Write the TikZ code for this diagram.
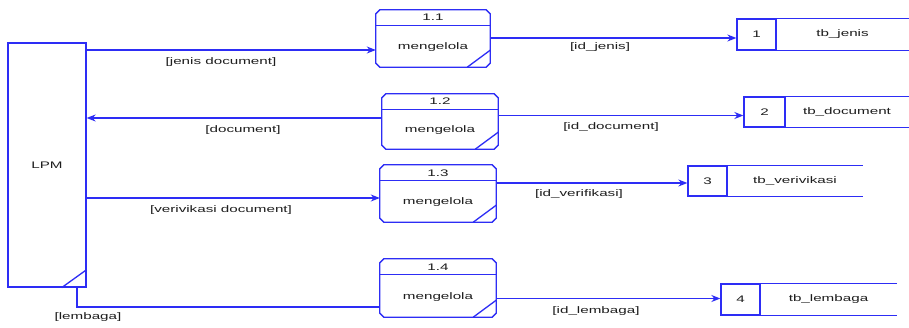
\documentclass[tikz,border=0pt]{standalone}
\usepackage{fontspec}
\setmainfont{Liberation Sans}
\usepackage{graphicx}
\usetikzlibrary{arrows.meta,calc}
\definecolor{ln}{RGB}{45,45,245}
\definecolor{tx}{RGB}{30,30,30}
\newcommand{\wt}[1]{\scalebox{1.6}[1]{#1}}
\begin{document}
\begin{tikzpicture}[x=1pt,y=-1pt,
  lnk/.style={draw=ln, line width=1.3pt},
  flow/.style={lnk, -{Stealth[length=9pt,width=7pt]}},
  txt/.style={inner sep=0pt, text=tx, font=\fontsize{9.5}{11}\selectfont},
  shp/.style={inner sep=0pt, minimum width=#1},
  cell/.style={lnk, inner sep=0pt, minimum width=#1, text=tx, font=\fontsize{9.5}{11}\selectfont},
  plain/.style={inner sep=0pt, minimum width=#1, text=tx, font=\fontsize{9.5}{11}\selectfont}]
\path[use as bounding box, fill=white] (0,0) rectangle (909,327);

% external entity
\node[lnk, txt, minimum width=78pt, minimum height=244pt] (lpm) at (47,165) {\wt{LPM}};
\draw[lnk] ([xshift=-25pt]lpm.south east) -- ([yshift=18pt]lpm.south east);

% processes
\node[shp=114pt, minimum height=57pt] (p1) at (433,38.5) {};
\node[shp=116pt, minimum height=55pt] (p2) at (440,121.5) {};
\node[shp=116pt, minimum height=57pt] (p3) at (438,193.5) {};
\node[shp=116pt, minimum height=58pt] (p4) at (438,288) {};
\foreach \n in {p1,p2,p3,p4}{
  \draw[lnk] ([xshift=4pt]\n.north west) -- ([xshift=-4pt]\n.north east)
    -- ([yshift=-4pt]\n.north east) -- ([yshift=4pt]\n.south east)
    -- ([xshift=-4pt]\n.south east) -- ([xshift=4pt]\n.south west)
    -- ([yshift=4pt]\n.south west) -- ([yshift=-4pt]\n.north west) -- cycle;
  \draw[lnk] ([yshift=-15.5pt]\n.north west) -- ([yshift=-15.5pt]\n.north east);
  \draw[lnk] ([xshift=-23pt]\n.south east) -- ([yshift=17pt]\n.south east);
}
\node[txt] (p1num) at (433,17.5) {\wt{1.1}};
\node[txt] (p1txt) at (433,47) {\wt{mengelola}};
\node[txt] (p2num) at (440,101.5) {\wt{1.2}};
\node[txt] (p2txt) at (440,130) {\wt{mengelola}};
\node[txt] (p3num) at (438,173) {\wt{1.3}};
\node[txt] (p3txt) at (438,202) {\wt{mengelola}};
\node[txt] (p4num) at (438,267.5) {\wt{1.4}};
\node[txt] (p4txt) at (438,297) {\wt{mengelola}};

% data stores
\node[cell=39pt, minimum height=31pt] (s1n) at (756.5,34.5) {\wt{1}};
\node[plain=133pt, minimum height=31pt] (s1t) at (842.5,34.5) {\wt{tb\_jenis}};
\node[cell=41pt, minimum height=30pt] (s2n) at (764.5,112) {\wt{2}};
\node[plain=124pt, minimum height=30pt] (s2t) at (847,112) {\wt{tb\_document}};
\node[cell=39pt, minimum height=30pt] (s3n) at (707.5,181) {\wt{3}};
\node[plain=136pt, minimum height=30pt] (s3t) at (795,181) {\wt{tb\_verivikasi}};
\node[cell=39pt, minimum height=31pt] (s4n) at (740.5,299.5) {\wt{4}};
\node[plain=137pt, minimum height=31pt] (s4t) at (828.5,299.5) {\wt{tb\_lembaga}};
\foreach \n in {s1t,s2t,s3t,s4t}{
  \draw[lnk] (\n.north west) -- (\n.north east);
  \draw[lnk] (\n.south west) -- (\n.south east);
}

% flows
\draw[flow] (lpm.east |- 0,50) -- (p1.west |- 0,50);
\draw[flow] (p2.west |- 0,118) -- (lpm.east |- 0,118);
\draw[flow] (lpm.east |- 0,198) -- (p3.west |- 0,198);
\draw[lnk] (lpm.south -| 77,0) |- (p4.west |- 0,307);
\draw[flow] (p1.east |- 0,38) -- (s1n.west |- 0,38);
\draw[flow] (p2.east |- 0,115.5) -- (s2n.west |- 0,115.5);
\draw[flow] (p3.east |- 0,183) -- (s3n.west |- 0,183);
\draw[flow] (p4.east |- 0,298.5) -- (s4n.west |- 0,298.5);

% flow labels
\node[txt] (l1) at (221,62) {\wt{[jenis document]}};
\node[txt] (l2) at (243,130) {\wt{[document]}};
\node[txt] (l3) at (221,210) {\wt{[verivikasi document]}};
\node[txt] (l4) at (88,317) {\wt{[lembaga]}};
\node[txt] (l5) at (600,47) {\wt{[id\_jenis]}};
\node[txt] (l6) at (611,127) {\wt{[id\_document]}};
\node[txt] (l7) at (579,194) {\wt{[id\_verifikasi]}};
\node[txt] (l8) at (596,311) {\wt{[id\_lembaga]}};
\end{tikzpicture}
\end{document}
